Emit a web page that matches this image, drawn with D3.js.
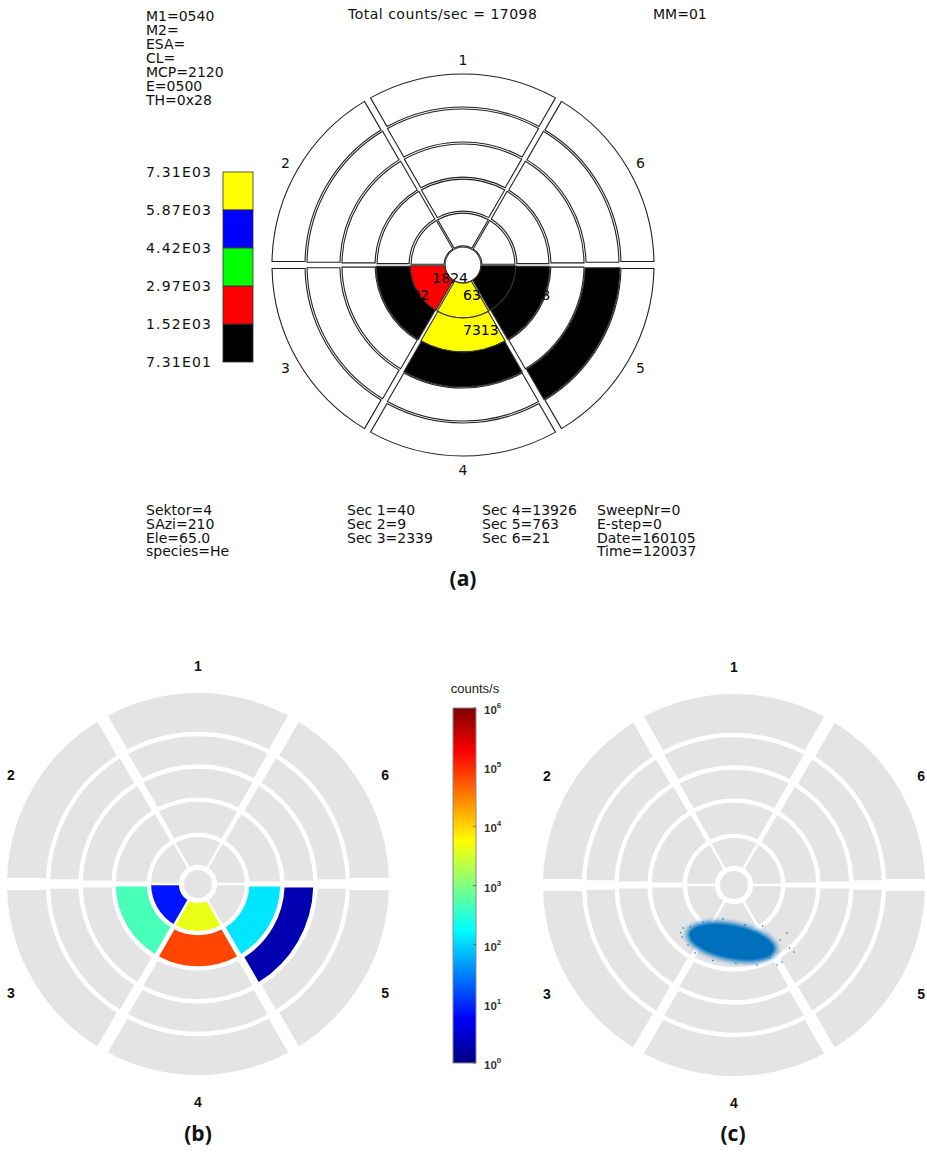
<!DOCTYPE html>
<html><head><meta charset="utf-8">
<script src="https://cdn.jsdelivr.net/npm/d3@7"></script>
<style>body{margin:0;background:#fff}</style>
</head><body>
<svg id="chart" width="927" height="1156"></svg>
<script>
// ---------- DATA ----------
const sectors = [1, 2, 3, 4, 5, 6];
const sectorCenterDeg = [0, 300, 240, 180, 120, 60];

// panel (a): counts per sector (rows) and ring (inner -> outer)
const countsA = [
  [25, 15, 0, 0, 0],
  [9, 0, 0, 0, 0],
  [1824, 502, 13, 0, 0],
  [6345, 7313, 268, 0, 0],
  [405, 248, 0, 110, 0],
  [21, 0, 0, 0, 0]
];
const ringEdgesA = [0.094, 0.277, 0.455, 0.639, 0.822, 1];
const legendLevelsA = [73.1, 1520, 2970, 4420, 5870, 7310];
const legendLabelsA = ["7.31E01", "1.52E03", "2.97E03", "4.42E03", "5.87E03", "7.31E03"];
const legendColorsA = ["#000000", "#ff0000", "#00ff00", "#0000ff", "#ffff00"];
const headerLeft = ["M1=0540", "M2=", "ESA=", "CL=", "MCP=2120", "E=0500", "TH=0x28"];
const headerTitle = "Total counts/sec = 17098";
const headerRight = "MM=01";
const footerCols = [
  ["Sektor=4", "SAzi=210", "Ele=65.0", "species=He"],
  ["Sec 1=40", "Sec 2=9", "Sec 3=2339"],
  ["Sec 4=13926", "Sec 5=763", "Sec 6=21"],
  ["SweepNr=0", "E-step=0", "Date=160105", "Time=120037"]
];

// panel (b): counts/s per sector and ring
const countsB = [
  [0, 0, 0, 0, 0],
  [0, 0, 0, 0, 0],
  [7.4, 468, 0, 0, 0],
  [4170, 70000, 0, 0, 0],
  [0, 126, 1.93, 0, 0],
  [0, 0, 0, 0, 0]
];
const ringEdgesB = [0.089, 0.257, 0.442, 0.615, 0.785, 1];
const cbExponents = [0, 1, 2, 3, 4, 5, 6];
const cbTitle = "counts/s";

// panel (c): simulated hit cloud (normalised detector coords)
const blobC = { x: -0.012, y: -0.298, rx: 0.232, ry: 0.092, tilt: 11 };
const straysC = [
  [-0.267, -0.225], [-0.272, -0.272], [-0.230, -0.220], [-0.162, -0.194],
  [-0.058, -0.178], [0.277, -0.251], [0.314, -0.351], [0.251, -0.403],
  [0.225, -0.419], [0.120, -0.419], [-0.241, -0.314], [0.188, -0.382],
  [0.241, -0.288], [-0.204, -0.356], [0.058, -0.209], [-0.110, -0.395],
  [0.010, -0.410], [0.290, -0.330], [-0.280, -0.250], [0.150, -0.215]
];

const panelTitles = ["(a)", "(b)", "(c)"];

// ---------- DRAW ----------
const svg = d3.select("#chart");
svg.append("rect").attr("width", 927).attr("height", 1156).attr("fill", "#fff");
const rad = d => d * Math.PI / 180;
const idlFont = "'DejaVu Sans', sans-serif";

// ===== Panel (a) =====
const A = { cx: 463, cy: 265, R: 191 };
const rA = d3.scaleLinear().domain([0, 1]).range([0, A.R]);
const colorA = d3.scaleThreshold().domain(legendLevelsA.slice(1, 5)).range(legendColorsA);
const arcA = d3.arc().padAngle(0.028);
const gA = svg.append("g").attr("transform", `translate(${A.cx},${A.cy})`);

gA.append("circle").attr("r", rA(ringEdgesA[0])).attr("fill", "#fff")
  .attr("stroke", "#222").attr("stroke-width", 1);

sectors.forEach((s, si) => {
  const a0 = rad(sectorCenterDeg[si] - 30), a1 = rad(sectorCenterDeg[si] + 30);
  countsA[si].forEach((v, ri) => {
    const painted = v >= legendLevelsA[0];
    const pad = painted ? 0 : 1;
    const cell = {
      innerRadius: rA(ringEdgesA[ri]) + pad,
      outerRadius: rA(ringEdgesA[ri + 1]) - (ri === 4 ? 0 : pad),
      startAngle: a0, endAngle: a1
    };
    gA.append("path").attr("d", arcA(cell))
      .attr("fill", painted ? colorA(v) : "none")
      .attr("stroke", painted ? "#333" : "#222").attr("stroke-width", 1.1);
    if (painted && ri < 2) {
      const c = arcA.centroid({ ...cell, innerRadius: rA(ringEdgesA[ri]) + 1, outerRadius: rA(ringEdgesA[ri + 1]) - 1 });
      gA.append("text").attr("x", c[0]).attr("y", c[1])
        .attr("font-family", idlFont).attr("font-size", 14).attr("fill", "#000")
        .text(v);
    }
  });
});

// sector labels (a)
sectors.forEach((s, si) => {
  const a = rad(sectorCenterDeg[si]);
  gA.append("text").attr("x", 205 * Math.sin(a)).attr("y", -205 * Math.cos(a))
    .attr("text-anchor", "middle").attr("dominant-baseline", "central")
    .attr("font-family", idlFont).attr("font-size", 14).attr("fill", "#111").text(s);
});

// legend (a)
const yLeg = d3.scaleLinear().domain([legendLevelsA[0], legendLevelsA[5]]).range([362, 172]);
legendColorsA.forEach((c, i) => {
  svg.append("rect").attr("x", 223).attr("width", 30)
    .attr("y", yLeg(legendLevelsA[i + 1])).attr("height", yLeg(legendLevelsA[i]) - yLeg(legendLevelsA[i + 1]))
    .attr("fill", c).attr("stroke", "#333").attr("stroke-width", 0.8);
});
legendLabelsA.forEach((t, i) => {
  svg.append("text").attr("x", 146).attr("y", yLeg(legendLevelsA[i]) + 5)
    .attr("font-family", idlFont).attr("font-size", 14).attr("letter-spacing", 1.2)
    .attr("fill", "#111").text(t);
});

// header text
headerLeft.forEach((t, i) => {
  svg.append("text").attr("x", 146).attr("y", 21 + i * 14)
    .attr("font-family", idlFont).attr("font-size", 14).attr("fill", "#111").text(t);
});
svg.append("text").attr("x", 348).attr("y", 19).attr("font-family", idlFont)
  .attr("font-size", 14).attr("letter-spacing", 0.5).attr("fill", "#111").text(headerTitle);
svg.append("text").attr("x", 653).attr("y", 19).attr("font-family", idlFont)
  .attr("font-size", 14).attr("fill", "#111").text(headerRight);

// footer text
const footerX = [146, 347, 482, 597];
footerCols.forEach((col, ci) => {
  col.forEach((t, i) => {
    svg.append("text").attr("x", footerX[ci]).attr("y", 515 + i * 13.8)
      .attr("font-family", idlFont).attr("font-size", 14).attr("fill", "#111").text(t);
  });
});

// ===== Panels (b) and (c) shared geometry =====
const grey = "#e4e4e4";
function drawDetector(cx, cy, R, values, colorFn) {
  const g = svg.append("g").attr("transform", `translate(${cx},${cy})`);
  const r = d3.scaleLinear().domain([0, 1]).range([0, R]);
  const arc = d3.arc().padAngle(0.05);
  g.append("circle").attr("r", r(ringEdgesB[0]) - 3).attr("fill", grey);
  sectors.forEach((s, si) => {
    const a0 = rad(sectorCenterDeg[si] - 30), a1 = rad(sectorCenterDeg[si] + 30);
    ringEdgesB.slice(0, 5).forEach((e, ri) => {
      const cell = {
        innerRadius: r(ringEdgesB[ri]) + 2.2,
        outerRadius: ri === 4 ? R : r(ringEdgesB[ri + 1]) - 2.2,
        startAngle: a0, endAngle: a1
      };
      const v = values ? values[si][ri] : 0;
      g.append("path").attr("d", arc(cell)).attr("fill", v > 0 ? colorFn(v) : grey);
    });
    const a = rad(sectorCenterDeg[si]);
    g.append("text").attr("x", 216 * Math.sin(a)).attr("y", -218 * Math.cos(a))
      .attr("text-anchor", "middle").attr("dominant-baseline", "central")
      .attr("font-family", "'Liberation Sans', Arial, sans-serif").attr("font-weight", "bold")
      .attr("font-size", 14).attr("fill", "#111").text(s);
  });
  return g;
}

function jet(t) {
  const c = v => Math.max(0, Math.min(1, v));
  return d3.rgb(255 * c(Math.min(4 * t - 1.5, -4 * t + 4.5)),
                255 * c(Math.min(4 * t - 0.5, -4 * t + 3.5)),
                255 * c(Math.min(4 * t + 0.5, -4 * t + 2.5))).formatHex();
}
const tLog = d3.scaleLog().domain([1, 1e6]).range([0, 1]).clamp(true);
const colorB = v => jet(tLog(v));

// Panel (b)
drawDetector(198, 884, 191, countsB, colorB);

// colorbar
const cb = { x: 453, w: 23, top: 708, bottom: 1063 };
const yCb = d3.scaleLog().domain([1, 1e6]).range([cb.bottom, cb.top]);
const defs = svg.append("defs");
const grad = defs.append("linearGradient").attr("id", "jetgrad")
  .attr("x1", 0).attr("y1", 1).attr("x2", 0).attr("y2", 0);
d3.range(0, 65).forEach(i => {
  grad.append("stop").attr("offset", i / 64).attr("stop-color", jet(i / 64));
});
svg.append("rect").attr("x", cb.x).attr("y", cb.top).attr("width", cb.w)
  .attr("height", cb.bottom - cb.top).attr("fill", "url(#jetgrad)")
  .attr("stroke", "#8a8a8a").attr("stroke-width", 1);
cbExponents.forEach(e => {
  const y = yCb(Math.pow(10, e));
  svg.append("line").attr("x1", cb.x + cb.w - 3).attr("x2", cb.x + cb.w)
    .attr("y1", y).attr("y2", y).attr("stroke", "#555").attr("stroke-width", 0.8);
  const t = svg.append("text").attr("x", cb.x + cb.w + 8).attr("y", y + 6)
    .attr("font-family", "'Liberation Sans', Arial, sans-serif").attr("font-weight", "bold")
    .attr("font-size", 11.5).attr("fill", "#333").text("10");
  t.append("tspan").attr("dy", -6).attr("font-size", 8).text(e);
});
svg.append("text").attr("x", 475).attr("y", 693).attr("text-anchor", "middle")
  .attr("font-family", "'Liberation Sans', Arial, sans-serif").attr("font-size", 13)
  .attr("fill", "#222").text(cbTitle);

// Panel (c)
const C = { cx: 734, cy: 885, R: 191 };
drawDetector(C.cx, C.cy, C.R, null, null);
const xC = d3.scaleLinear().domain([-1, 1]).range([C.cx - C.R, C.cx + C.R]);
const yC = d3.scaleLinear().domain([-1, 1]).range([C.cy + C.R, C.cy - C.R]);
const blur = defs.append("filter").attr("id", "soft").attr("x", "-20%").attr("y", "-40%")
  .attr("width", "140%").attr("height", "180%");
blur.append("feGaussianBlur").attr("stdDeviation", 1.6);
const blobG = svg.append("g")
  .attr("transform", `translate(${xC(blobC.x)},${yC(blobC.y)}) rotate(${blobC.tilt})`);
blobG.append("ellipse").attr("rx", blobC.rx * C.R + 4).attr("ry", blobC.ry * C.R + 3.5)
  .attr("fill", "#2a86cc").attr("opacity", 0.45).attr("filter", "url(#soft)");
blobG.append("ellipse").attr("rx", blobC.rx * C.R).attr("ry", blobC.ry * C.R)
  .attr("fill", "#0072bd").attr("filter", "url(#soft)");
blobG.append("ellipse").attr("rx", blobC.rx * C.R - 2).attr("ry", blobC.ry * C.R - 2)
  .attr("fill", "#0070bd");
svg.append("g").selectAll("circle").data(straysC).join("circle")
  .attr("cx", d => xC(d[0])).attr("cy", d => yC(d[1])).attr("r", 0.8).attr("fill", "#0072bd");

// panel titles
const titleX = [463, 198, 733], titleY = [586, 1141, 1141];
panelTitles.forEach((t, i) => {
  svg.append("text").attr("x", titleX[i]).attr("y", titleY[i]).attr("text-anchor", "middle")
    .attr("font-family", "'Open Sans', sans-serif").attr("font-weight", "bold")
    .attr("font-size", 21).attr("fill", "#111").text(t);
});
</script>
</body></html>
